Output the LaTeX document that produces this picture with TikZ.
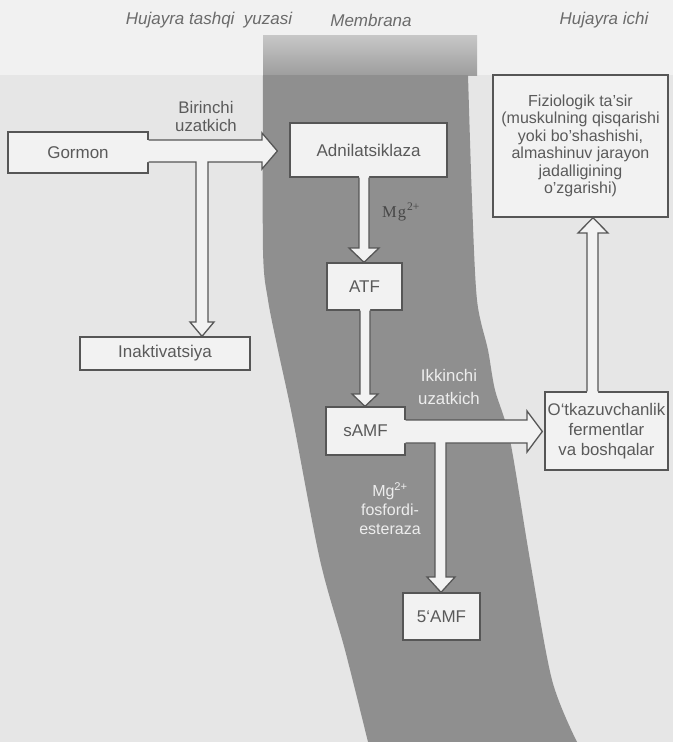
\documentclass[tikz,border=0pt]{standalone}
\usepackage{fontspec}
\setmainfont{Liberation Sans}
\newfontfamily\serifmg{Liberation Serif}
\usetikzlibrary{calc}
\definecolor{pagebg}{HTML}{E6E6E6}
\definecolor{topbg}{HTML}{F1F1F1}
\definecolor{band}{HTML}{8F8F8F}
\definecolor{boxfill}{HTML}{F2F2F2}
\definecolor{edge}{HTML}{565656}
\definecolor{txt}{HTML}{5A5A5A}
\definecolor{wtxt}{HTML}{EDEDED}
\begin{document}
\begin{tikzpicture}[x=1pt,y=-1pt,
  box/.style={draw=edge, fill=boxfill, line width=1.3pt, inner sep=0pt, text=txt,
    font=\fontsize{17}{18}\selectfont, align=center},
  arrowfill/.style={fill=boxfill},
  arrowline/.style={draw=edge, line width=1.3pt, line join=miter},
  lbl/.style={text=txt, align=center, inner sep=0pt},
  wlbl/.style={text=wtxt, align=center, inner sep=0pt},
  toplbl/.style={text=black!58, font=\itshape\fontsize{17}{19}\selectfont, inner sep=0pt}]
\useasboundingbox (0,0) rectangle (673,742);
% background
\fill[topbg] (0,0) rectangle (673,75);
\fill[pagebg] (0,75) rectangle (673,742);
% membrane
\shade[top color=black!22, bottom color=black!38] (263,35) rectangle (477,75);
\fill[band] plot[smooth] coordinates {(263,75) (263,250) (268,300) (278,350) (293,420) (320,560) (345,650) (368,742)}
  -- plot[smooth] coordinates {(577,742) (552,680) (530,560) (510,440) (495,390) (488,350) (477,300) (472,200) (468,75)} -- cycle;
% top labels
\node[toplbl] (t1) at (209,20) {Hujayra tashqi\ \ yuzasi};
\node[toplbl] (t2) at (371,20) {Membrana};
\node[toplbl] (t3) at (604,20) {Hujayra ichi};
% boxes
\node[box, minimum width=140pt, minimum height=41pt] (gormon) at (78,152.5) {Gormon};
\node[box, minimum width=170pt, minimum height=33pt] (inakt) at (165,353.5) {Inaktivatsiya};
\node[box, minimum width=157pt, minimum height=54pt] (adnil) at (368.5,150) {Adnilatsiklaza};
\node[box, minimum width=75pt, minimum height=47pt] (atf) at (364.5,286.5) {ATF};
\node[box, minimum width=79pt, minimum height=48pt] (samf) at (365.5,431) {sAMF};
\node[box, minimum width=77pt, minimum height=47pt] (amf) at (441.5,616.5) {5`AMF};
\node[box, minimum width=123pt, minimum height=78pt, font=\fontsize{16.8}{20}\selectfont] (otk) at (606.5,431) {O`tkazuvchanlik\\fermentlar\\va boshqalar};
\node[box, minimum width=175pt, minimum height=142pt, font=\fontsize{16}{17.5}\selectfont] (fiz) at (580.5,146) {Fiziologik ta'sir\\(muskulning qisqarishi\\yoki bo'shashishi,\\almashinuv jarayon\\jadalligining\\o'zgarishi)};
% arrow Gormon -> Adnilatsiklaza, branch to Inaktivatsiya
\fill[arrowfill] (145,140) -- (262,140) -- (262,133) -- ($(adnil.west)+(-12,1)$) -- (262,169) -- (262,162) -- (208,162) -- (208,322) -- (214,322) -- ($(inakt.north)+(37,0)$) -- (190,322) -- (196,322) -- (196,162) -- (145,162) -- cycle;
\draw[arrowline] ($(gormon.east)+(0,-12.5)$) -- (262,140) -- (262,133) -- ($(adnil.west)+(-12,1)$) -- (262,169) -- (262,162) -- (208,162) -- (208,322) -- (214,322) -- ($(inakt.north)+(37,0)$) -- (190,322) -- (196,322) -- (196,162) -- ($(gormon.east)+(0,9.5)$);
% arrow Adnilatsiklaza -> ATF
\fill[arrowfill] (359,175) -- (359,248) -- (349,248) -- (atf.north -| 364,0) -- (379,248) -- (369,248) -- (369,175) -- cycle;
\draw[arrowline] (adnil.south -| 359,0) -- (359,248) -- (349,248) -- (atf.north -| 364,0) -- (379,248) -- (369,248) -- (adnil.south -| 369,0);
% arrow ATF -> sAMF
\fill[arrowfill] (360,308) -- (360,394) -- (352,394) -- (samf.north -| 365,0) -- (378,394) -- (370,394) -- (370,308) -- cycle;
\draw[arrowline] (atf.south -| 360,0) -- (360,394) -- (352,394) -- (samf.north -| 365,0) -- (378,394) -- (370,394) -- (atf.south -| 370,0);
% arrow sAMF -> O'tkazuvchanlik, branch to 5'AMF
\fill[arrowfill] (403,420) -- (527,420) -- (527,411) -- ($(otk.west)+(-2,0.5)$) -- (527,452) -- (527,443) -- (446,443) -- (446,577) -- (455,577) -- (amf.north -| 441,0) -- (427,577) -- (435,577) -- (435,443) -- (403,443) -- cycle;
\draw[arrowline] ($(samf.east)+(0,-11)$) -- (527,420) -- (527,411) -- ($(otk.west)+(-2,0.5)$) -- (527,452) -- (527,443) -- (446,443) -- (446,577) -- (455,577) -- (amf.north -| 441,0) -- (427,577) -- (435,577) -- (435,443) -- ($(samf.east)+(0,12)$);
% arrow O'tkazuvchanlik -> Fiziologik
\fill[arrowfill] (587,394) -- (587,233) -- (578,233) -- (fiz.south -| 593,0) -- (608,233) -- (598,233) -- (598,394) -- cycle;
\draw[arrowline] (otk.north -| 587,0) -- (587,233) -- (578,233) -- (fiz.south -| 593,0) -- (608,233) -- (598,233) -- (otk.north -| 598,0);
% labels
\node[lbl, font=\fontsize{16.8}{18}\selectfont] (l1) at (206,116) {Birinchi\\uzatkich};
\node[wlbl, font=\fontsize{16.8}{23}\selectfont] (l2) at (449,387) {Ikkinchi\\uzatkich};
\node[wlbl, font=\fontsize{16}{19}\selectfont] (l3) at (390,509) {Mg\textsuperscript{2+}\\fosfordi-\\esteraza};
\node[inner sep=0pt, text=black!72, font=\serifmg\fontsize{16.5}{18}\selectfont] (mg) at (401,212) {M\kern1pt g\textsuperscript{\kern1pt 2+}};
\end{tikzpicture}
\end{document}
